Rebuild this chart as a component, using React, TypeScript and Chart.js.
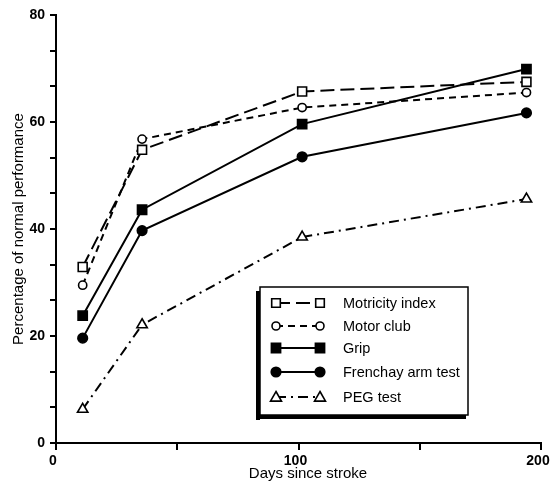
import React, { useEffect, useRef } from 'react';
import { Chart, registerables } from 'chart.js';

Chart.register(...registerables);

const days = [11, 35.5, 101.5, 194];
const motricityIndex = [32.9, 54.8, 65.7, 67.5];
const motorClub = [29.5, 56.8, 62.7, 65.5];
const grip = [23.8, 43.6, 59.6, 69.9];
const frenchayArm = [19.6, 39.7, 53.5, 61.7];
const pegTest = [6.3, 22.1, 38.5, 45.6];
const seriesLabels = ['Motricity index', 'Motor club', 'Grip', 'Frenchay arm test', 'PEG test'];
const yTickLabels = [0, 20, 40, 60, 80];
const yMinorPerMajor = 3;
const xTickLabels = [0, 100, 200];
const xTitle = 'Days since stroke';
const yTitle = 'Percentage of normal performance';

type Marker = { style: 'rect' | 'circle' | 'triangle'; filled: boolean; dash: number[]; r: number; lr: number };
const markers: Marker[] = [
  { style: 'rect', filled: false, dash: [14, 6], r: 6.3, lr: 4.3 },
  { style: 'circle', filled: false, dash: [7, 5], r: 4.1, lr: 4 },
  { style: 'rect', filled: true, dash: [], r: 6.5, lr: 4.6 },
  { style: 'circle', filled: true, dash: [], r: 4.8, lr: 4.8 },
  { style: 'triangle', filled: false, dash: [10, 5, 2, 5], r: 6, lr: 5.5 },
];

const FONT = '"Liberation Sans", Arial, sans-serif';

const drawMarker = (ctx: CanvasRenderingContext2D, m: Marker, x: number, y: number) => {
  ctx.save();
  ctx.setLineDash([]);
  ctx.lineWidth = 1.6;
  ctx.strokeStyle = '#000';
  ctx.fillStyle = m.filled ? '#000' : '#fff';
  ctx.beginPath();
  const r = m.lr;
  if (m.style === 'rect') {
    ctx.rect(x - r, y - r, 2 * r, 2 * r);
  } else if (m.style === 'circle') {
    ctx.arc(x, y, r, 0, Math.PI * 2);
  } else {
    ctx.moveTo(x, y - r);
    ctx.lineTo(x + r, y + r * 0.75);
    ctx.lineTo(x - r, y + r * 0.75);
    ctx.closePath();
  }
  ctx.fill();
  ctx.stroke();
  ctx.restore();
};

const boxLegend = {
  id: 'boxLegend',
  afterDraw(chart: any) {
    const ctx: CanvasRenderingContext2D = chart.ctx;
    ctx.save();
    // shadowed box
    ctx.fillStyle = '#000';
    ctx.fillRect(256, 291, 4, 129);
    ctx.fillRect(256, 415, 210, 4);
    ctx.fillStyle = '#fff';
    ctx.fillRect(260, 287, 208, 128);
    ctx.strokeStyle = '#000';
    ctx.lineWidth = 1.5;
    ctx.strokeRect(260, 287, 208, 128);
    const rows = [303, 326, 348, 372, 397];
    ctx.font = '14.5px ' + FONT;
    ctx.textBaseline = 'middle';
    ctx.textAlign = 'left';
    chart.data.datasets.forEach((ds: any, i: number) => {
      const y = rows[i];
      const m = markers[i];
      ctx.save();
      ctx.strokeStyle = '#000';
      ctx.lineWidth = 2;
      ctx.setLineDash(m.dash);
      ctx.beginPath();
      ctx.moveTo(276, y);
      ctx.lineTo(320, y);
      ctx.stroke();
      ctx.restore();
      drawMarker(ctx, m, 276, y);
      drawMarker(ctx, m, 320, y);
      ctx.fillStyle = '#000';
      ctx.fillText(ds.label, 343, y + 1);
    });
    // x axis title
    ctx.font = '15px ' + FONT;
    ctx.textAlign = 'center';
    ctx.textBaseline = 'middle';
    ctx.fillText(xTitle, 308, 474);
    ctx.restore();
  },
};

const seriesValues = [motricityIndex, motorClub, grip, frenchayArm, pegTest];

export default function App() {
  const ref = useRef<HTMLCanvasElement>(null);
  useEffect(() => {
    if (!ref.current) return;
    const datasets = seriesValues.map((vals, i) => {
      const m = markers[i];
      return {
        label: seriesLabels[i],
        data: days.map((d, j) => ({ x: d, y: vals[j] })),
        borderColor: '#000',
        borderWidth: 2,
        borderDash: m.dash,
        pointStyle: m.style,
        pointRadius: m.r,
        pointBorderWidth: 1.6,
        pointBackgroundColor: m.filled ? '#000' : '#fff',
        pointBorderColor: '#000',
        fill: false,
        tension: 0,
      };
    });
    const yTicks: number[] = [];
    yTickLabels.forEach((v, i) => {
      yTicks.push(v);
      if (i < yTickLabels.length - 1) {
        const step = (yTickLabels[i + 1] - v) / yMinorPerMajor;
        for (let k = 1; k < yMinorPerMajor; k++) yTicks.push(v + step * k);
      }
    });
    const chart = new Chart(ref.current, {
      type: 'line',
      data: { datasets },
      plugins: [boxLegend],
      options: {
        animation: false,
        responsive: false,
        devicePixelRatio: 1,
        layout: { padding: { top: 15, right: 10, left: 0, bottom: 0 } },
        plugins: { legend: { display: false }, tooltip: { enabled: false } },
        scales: {
          x: {
            type: 'linear',
            min: 0,
            max: 200,
            afterFit(scale: any) {
              scale.height = 39;
              scale.paddingRight = 0;
              scale.paddingLeft = 0;
            },
            ticks: {
              stepSize: 50,
              autoSkip: false,
              maxRotation: 0,
              padding: 3,
              labelOffset: -3,
              color: '#000',
              font: { size: 14, weight: 'bold', family: FONT },
              callback: (v: any) => (xTickLabels.includes(Number(v)) ? String(v) : ''),
            },
            grid: { display: true, drawOnChartArea: false, drawTicks: true, tickLength: 7, color: '#000', lineWidth: 2 },
            border: { display: true, color: '#000', width: 2 },
            title: { display: false, text: xTitle },
          },
          y: {
            type: 'linear',
            min: 0,
            max: 80,
            afterBuildTicks(scale: any) {
              scale.ticks = yTicks.map((v) => ({ value: v }));
            },
            afterFit(scale: any) {
              scale.width = 56;
              scale.paddingTop = 0;
              scale.paddingBottom = 0;
            },
            ticks: {
              autoSkip: false,
              padding: 5,
              color: '#000',
              font: { size: 14, weight: 'bold', family: FONT },
              callback: (v: any) => {
                const n = Number(v);
                const hit = yTickLabels.find((t) => Math.abs(t - n) < 0.01);
                return hit !== undefined ? String(hit) : '';
              },
            },
            grid: { display: true, drawOnChartArea: false, drawTicks: true, tickLength: 6, color: '#000', lineWidth: 2 },
            border: { display: true, color: '#000', width: 2 },
            title: {
              display: true,
              text: yTitle,
              color: '#000',
              padding: { top: 10, bottom: 0 },
              font: { size: 15, family: FONT },
            },
          },
        },
      } as any,
    });
    return () => chart.destroy();
  }, []);
  return (
    <div style={{ position: 'fixed', left: 0, top: 0, width: 551, height: 482, background: '#fff' }}>
      <canvas ref={ref} width={551} height={482} style={{ width: 551, height: 482 }} />
    </div>
  );
}
